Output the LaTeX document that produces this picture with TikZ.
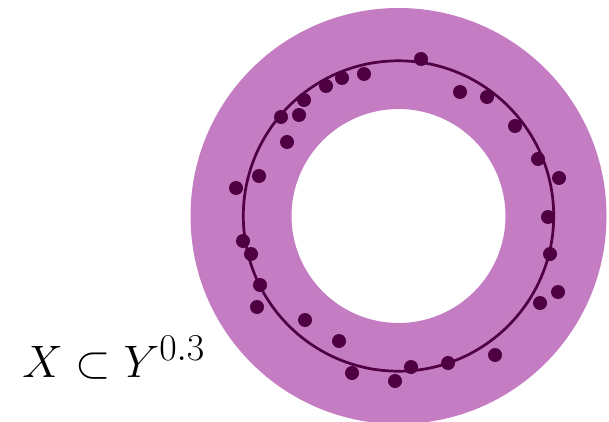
\documentclass[tikz,border=0pt]{standalone}
\usepackage{tikz}
\usetikzlibrary{positioning}
\definecolor{ringpink}{RGB}{196, 124, 194}
\definecolor{dotplum}{RGB}{78, 0, 66}
\tikzset{
  ring/.style={fill=ringpink,even odd rule},
  fitline/.style={draw=dotplum,line width=1.35pt},
  sample/.style={circle,fill=dotplum,inner sep=0pt,minimum size=7pt},
}

\begin{document}
\begin{tikzpicture}[x=0.5pt,y=-0.5pt]
        \useasboundingbox (0,0) rectangle (609,422);
        \coordinate (c) at (398.5,216);
        \fill[ring] (c) circle[radius=104pt] (c) circle[radius=53.5pt];
        \draw[fitline] (c) circle[radius=77.6pt];
        \foreach \px/\py [count=\i] in {
            421/59, 364/74, 342/78, 326/86, 304/100, 299/115, 281/117,
            287/142, 259/176, 236/188, 460/92, 487/97, 515/126, 538/159,
            559/178, 548/217, 550/254, 558/292, 540/303, 243/241, 251/254,
            260/285, 257/307, 305/320, 339/341, 352/373, 395/381, 411/367,
            448/363, 495/355}
          \node[sample] (s\i) at (\px,\py) {};
        \node[font=\Huge,scale=0.914,inner sep=0pt,anchor=base west] (lbl)
              at (22,377) {$X\subset Y^{0.3}$};
      \end{tikzpicture}
\end{document}
